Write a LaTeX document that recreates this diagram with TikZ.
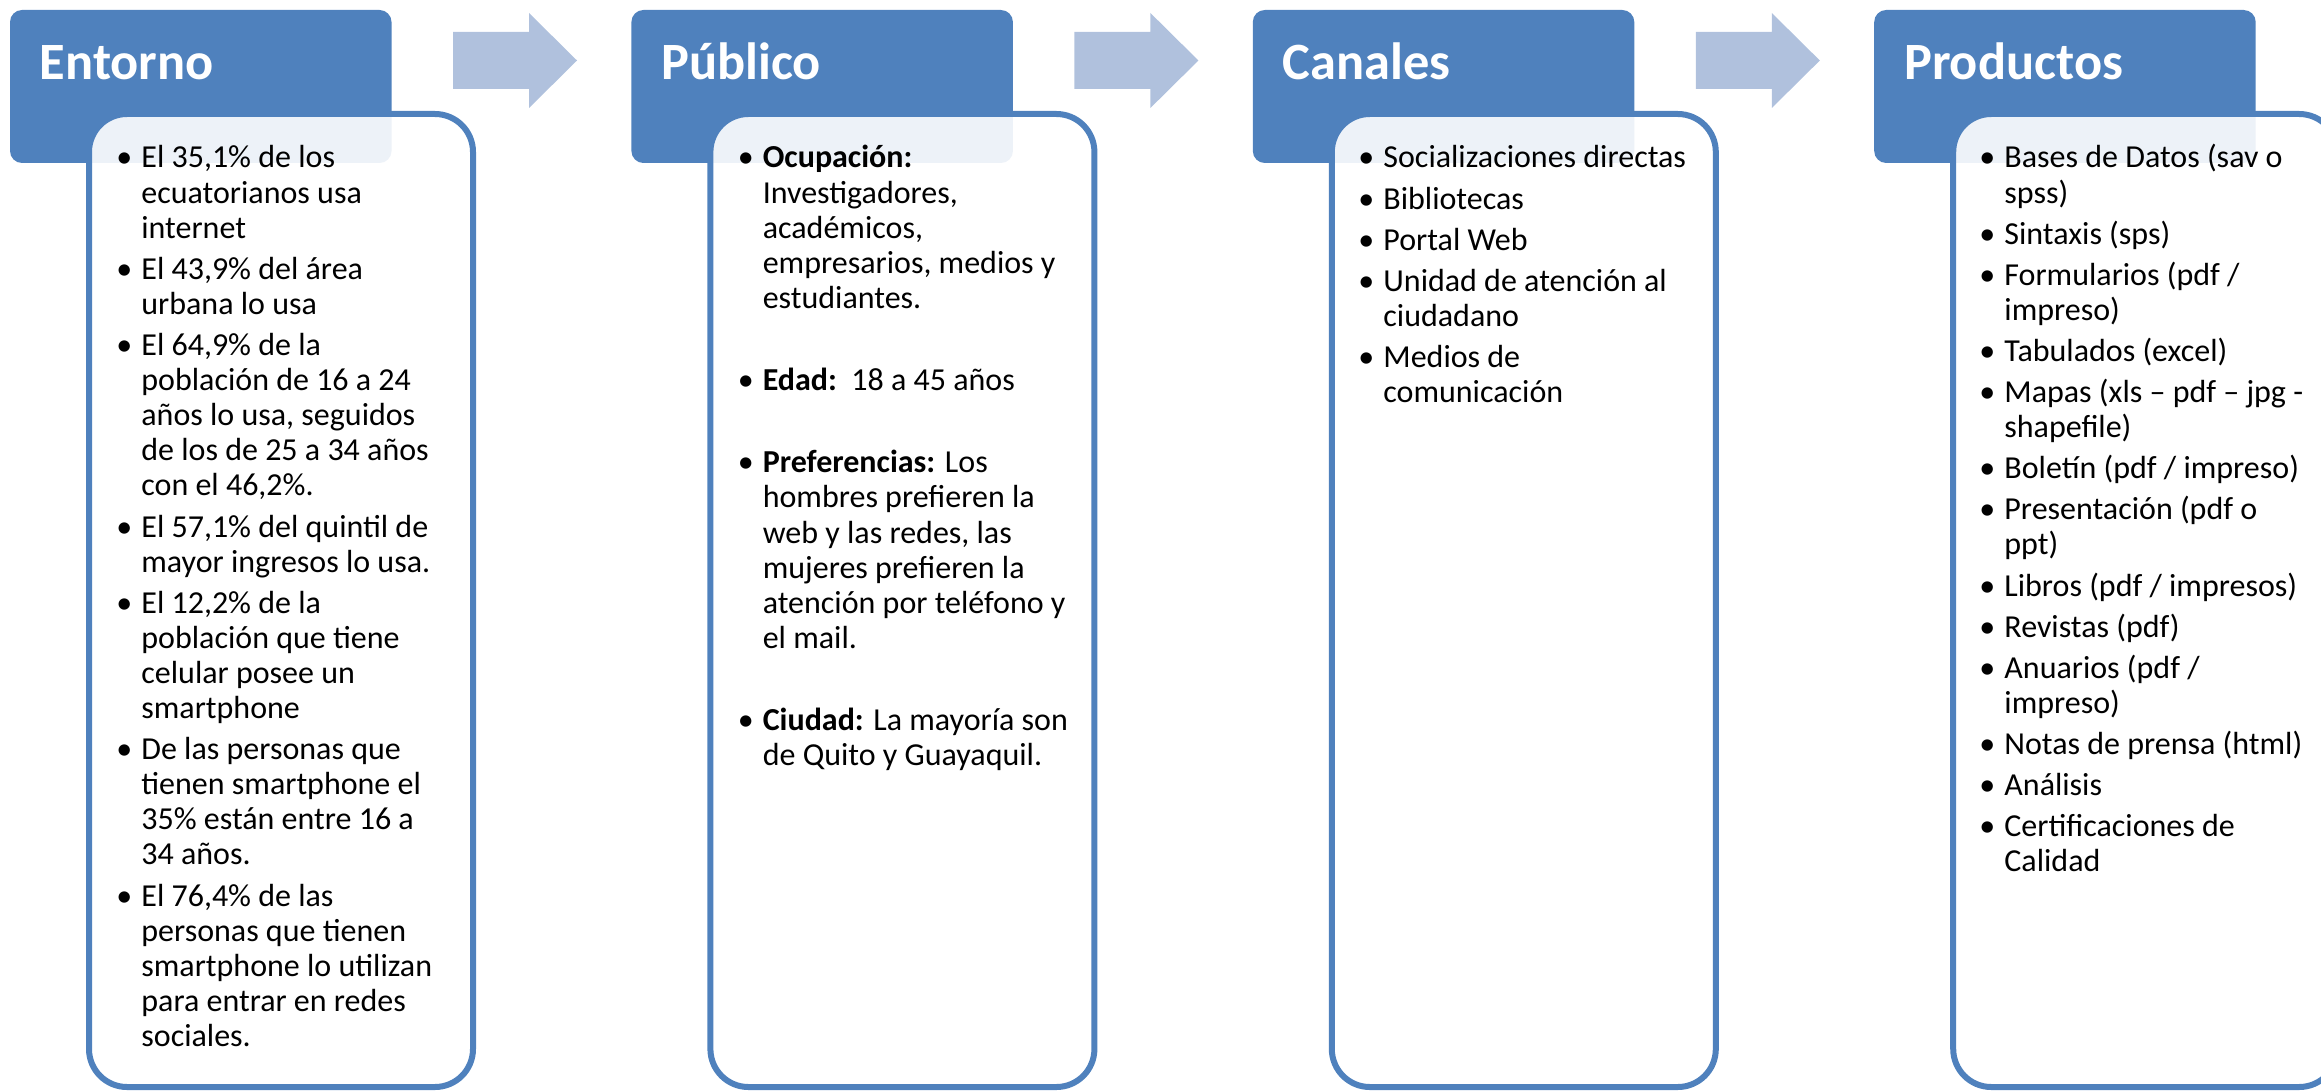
\documentclass[tikz,border=0pt]{standalone}
\usepackage{fontspec}
\setmainfont{Carlito}
\definecolor{headblue}{RGB}{79,129,189}
\definecolor{arrowblue}{RGB}{176,193,221}
\newcommand{\bul}{\leavevmode\llap{\textbullet\hspace{4.5pt}}}
\newenvironment{boxlist}{\begin{minipage}[t]{400pt}\setlength{\parskip}{3pt}}{\end{minipage}}
\tikzset{
    head/.style={rectangle, rounded corners=6pt, fill=headblue, anchor=north west,
    	minimum width=190.75pt, minimum height=76.5pt, inner sep=0pt, outer sep=0pt}
}
\tikzset{
    body/.style={rectangle, rounded corners=19pt, draw=headblue, line width=3pt,
    	fill=white, fill opacity=0.9, anchor=north west, minimum width=192pt,
    	minimum height=486.5pt, inner sep=0pt, outer sep=0pt}
}
\tikzset{
    headtext/.style={anchor=base west, inner sep=0pt, text=white,
    	font=\fontsize{26.2}{30}\selectfont\bfseries}
}
\tikzset{
    itemtext/.style={anchor=base west, inner sep=0pt, text=black,
    	font=\fontsize{16}{17.55}\selectfont}
}
\tikzset{
    blockarrow/.style={fill=arrowblue}
}

\begin{document}
\begin{tikzpicture}[x=0.5pt, y=-0.5pt]
	\useasboundingbox (0,0) rectangle (2321,1091);
	% header boxes
	\node (h1) [head] at (10,10) {};
	\node (h2) [head] at (631.4,10) {};
	\node (h3) [head] at (1252.8,10) {};
	\node (h4) [head] at (1874.2,10) {};
	% list boxes
	\node (b1) [body] at (89,114) {};
	\node (b2) [body] at (710.4,114) {};
	\node (b3) [body] at (1331.8,114) {};
	\node (b4) [body] at (1953.2,114) {};
	% arrows between steps
	\fill[blockarrow] (453,32) -- (529,32) -- (529,13) -- (577,60.5)
		-- (529,108) -- (529,89) -- (453,89) -- cycle;
	\fill[blockarrow] (1074.4,32) -- (1150.4,32) -- (1150.4,13) -- (1198.4,60.5)
		-- (1150.4,108) -- (1150.4,89) -- (1074.4,89) -- cycle;
	\fill[blockarrow] (1695.8,32) -- (1771.8,32) -- (1771.8,13) -- (1819.8,60.5)
		-- (1771.8,108) -- (1771.8,89) -- (1695.8,89) -- cycle;
	% titles
	\node (t1) [headtext] at (39.5,80) {Entorno};
	\node (t2) [headtext] at (660.9,80) {Público};
	\node (t3) [headtext] at (1282.3,80) {Canales};
	\node (t4) [headtext] at (1903.7,80) {Productos};
	% lists
	\node (l1) [itemtext] at (141,168) {\begin{boxlist}
		\bul El 35,1\% de los\newline ecuatorianos usa\newline internet\par
		\bul El 43,9\% del área\newline urbana lo usa\par
		\bul El 64,9\% de la\newline población de 16 a 24\newline años lo usa, seguidos\newline de los de 25 a 34 años\newline con el 46,2\%.\par
		\bul El 57,1\% del quintil de\newline mayor ingresos lo usa.\par
		\bul El 12,2\% de la\newline población que tiene\newline celular posee un\newline smartphone\par
		\bul De las personas que\newline tienen smartphone el\newline 35\% están entre 16 a\newline 34 años.\par
		\bul El 76,4\% de las\newline personas que tienen\newline smartphone lo utilizan\newline para entrar en redes\newline sociales.
	\end{boxlist}};
	\node (l2) [itemtext] at (762.4,168) {\begin{boxlist}
		\bul \textbf{Ocupación:}\newline Investigadores,\newline académicos,\newline empresarios, medios y\newline estudiantes.\par
		\mbox{}\par
		\bul \textbf{Edad:}\ \ 18 a 45 años\par
		\mbox{}\par
		\bul \textbf{Preferencias:} Los\newline hombres prefieren la\newline web y las redes, las\newline mujeres prefieren la\newline atención por teléfono y\newline el mail.\par
		\mbox{}\par
		\bul \textbf{Ciudad:} La mayoría son\newline de Quito y Guayaquil.
	\end{boxlist}};
	\node (l3) [itemtext] at (1383,168) {\begin{boxlist}
		\bul Socializaciones directas\par
		\bul Bibliotecas\par
		\bul Portal Web\par
		\bul Unidad de atención al\newline ciudadano\par
		\bul Medios de\newline comunicación
	\end{boxlist}};
	\node (l4) [itemtext] at (2004,168) {\begin{boxlist}
		\bul Bases de Datos (sav o\newline spss)\par
		\bul Sintaxis (sps)\par
		\bul Formularios (pdf /\newline impreso)\par
		\bul Tabulados (excel)\par
		\bul Mapas (xls – pdf – jpg -\newline shapefile)\par
		\bul Boletín (pdf / impreso)\par
		\bul Presentación (pdf o\newline ppt)\par
		\bul Libros (pdf / impresos)\par
		\bul Revistas (pdf)\par
		\bul Anuarios (pdf /\newline impreso)\par
		\bul Notas de prensa (html)\par
		\bul Análisis\par
		\bul Certificaciones de\newline Calidad
	\end{boxlist}};
\end{tikzpicture}
\end{document}
